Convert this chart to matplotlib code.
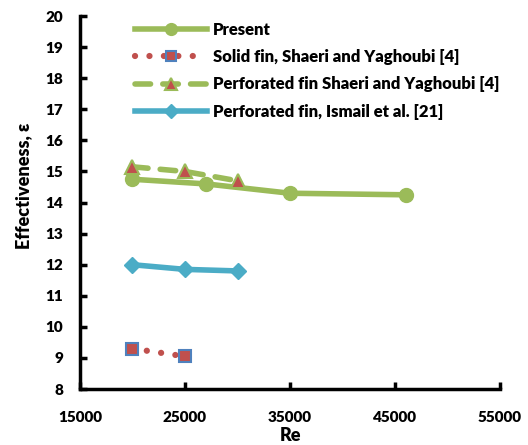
import matplotlib
matplotlib.use("Agg")
import matplotlib.pyplot as plt

# colors
green = "#9BBB59"
red = "#C0504D"
blue = "#4F81BD"
cyan = "#4BACC6"

# data
re_present = [20000, 27000, 35000, 46000]
eff_present = [14.75, 14.6, 14.3, 14.25]

re_solid = [20000, 25000]
eff_solid = [9.3, 9.05]

re_perf = [20000, 25000, 30000]
eff_perf = [15.15, 15.0, 14.7]

re_ismail = [20000, 25000, 30000]
eff_ismail = [12.0, 11.85, 11.8]

x_ticks = [15000, 25000, 35000, 45000, 55000]
y_ticks = list(range(8, 21))

plt.rcParams["font.family"] = ["Lato", "DejaVu Sans"]
wt = "heavy"

fig = plt.figure(figsize=(5.28, 4.45), dpi=100)
ax = fig.add_axes([0.1515, 0.1258, 0.7955, 0.838])

ax.plot(re_present, eff_present, "-o", color=green, lw=4, markersize=10,
        label="Present")
ax.plot(re_solid, eff_solid, color=red, lw=4.5, marker="s", markersize=9,
        markerfacecolor=red, markeredgecolor=blue, markeredgewidth=1.5,
        dashes=(0.01, 2.3), dash_capstyle="round",
        label="Solid fin, Shaeri and Yaghoubi [4]")
ax.plot(re_perf, eff_perf, color=green, lw=4, marker="^", markersize=10,
        markerfacecolor=red, markeredgecolor=green, markeredgewidth=1.5,
        dashes=(2.8, 2.2), dash_capstyle="round",
        label="Perforated fin Shaeri and Yaghoubi [4]")
ax.plot(re_ismail, eff_ismail, "-D", color=cyan, lw=4, markersize=8,
        label="Perforated fin, Ismail et al. [21]")

ax.set_xlim(15000, 55000)
ax.set_ylim(8, 20)
ax.set_xticks(x_ticks)
ax.set_yticks(y_ticks)
ax.spines["top"].set_visible(False)
ax.spines["right"].set_visible(False)
ax.spines["left"].set_linewidth(2.5)
ax.spines["bottom"].set_linewidth(2.5)
ax.tick_params(direction="in", length=5, width=2.5, labelsize=11)
ax.tick_params(axis="x", pad=16)
ax.tick_params(axis="y", pad=12)
for lab in ax.get_xticklabels() + ax.get_yticklabels():
    lab.set_fontweight(wt)

ax.set_xlabel("Re", fontsize=13, fontweight=wt, labelpad=2)
ax.set_ylabel("Effectiveness, ε", fontsize=13, fontweight=wt)
ax.yaxis.set_label_coords(-0.114, 0.545)

leg = ax.legend(loc="upper left", bbox_to_anchor=(0.131, 0.985), frameon=False,
                prop={"size": 12, "weight": wt},
                handlelength=4.3, handletextpad=0.36, markerscale=0.85,
                labelspacing=0.68, borderaxespad=0, borderpad=0)

fig.savefig("out.png", dpi=100)
